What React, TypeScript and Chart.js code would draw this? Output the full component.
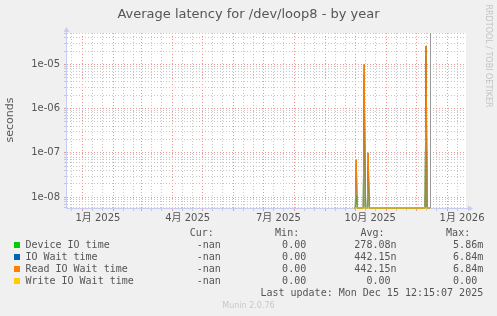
import React, { useEffect, useRef } from 'react';
import { Chart, registerables } from 'chart.js';

Chart.register(...registerables);

// ---- data ----
const xTickLabels = ['1月 2025', '4月 2025', '7月 2025', '10月 2025', '1月 2026'];
const xTickDays = [15, 105, 196, 288, 380]; // days since 2025-01-01
const monthStartDays = [-31, 0, 31, 59, 90, 120, 151, 181, 212, 243, 273, 304, 334, 365];
const xMin = -17;
const xMax = 384;
const nowDay = 348;

const yMin = 5.7e-9;
const yMax = 5.1e-5;
const yMajorValues = [1e-8, 1e-7, 1e-6, 1e-5];
const yTickLabels = ['1e-08', '1e-07', '1e-06', '1e-05'];

const sampleDays = [272, 273, 274, 275, 281, 282, 283, 285, 286, 287, 343, 344, 345, 348];
const deviceIO = [0, 0, 1.1e-8, 0, 0, 6e-6, 0, 0, 5e-8, 0, 0, 1.5e-5, 0, 0];
const ioWait = [0, 0, 7e-8, 0, 0, 1.0e-5, 0, 0, 1.0e-7, 0, 0, 2.6e-5, 0, 0];
const readIOWait = [0, 0, 7e-8, 0, 0, 1.0e-5, 0, 0, 1.0e-7, 0, 0, 2.6e-5, 0, 0];
const writeIOWait = [0, 0, 0, 0, 0, 0, 0, 0, 0, 0, 0, 0, 0, 0];

const seriesNames = ['Device IO time', 'IO Wait time', 'Read IO Wait time', 'Write IO Wait time'];
const seriesColors = ['#00cc00', '#0066b3', '#ff8000', '#ffcc00'];
const seriesValues = [deviceIO, ioWait, readIOWait, writeIOWait];
const curValues = ['-nan', '-nan', '-nan', '-nan'];
const minValues = ['0.00', '0.00', '0.00', '0.00'];
const avgValues = ['278.08n', '442.15n', '442.15n', '0.00 '];
const maxValues = ['5.86m', '6.84m', '6.84m', '0.00 '];

const titleText = 'Average latency for /dev/loop8 - by year';
const yAxisTitle = 'seconds';
const lastUpdate = 'Last update: Mon Dec 15 12:15:07 2025';
const footer = 'Munin 2.0.76';
const watermark = 'RRDTOOL / TOBI OETIKER';

// ---- styles ----
const sans = "'DejaVu Sans', 'Noto Sans CJK JP', sans-serif";
const mono = "'DejaVu Sans Mono', monospace";
const textColor = '#555555';
const majorGrid = 'rgb(240,150,150)';
const minorGrid = 'rgb(200,200,200)';
const axisColor = '#c6ccf4';

const floorZero = (v: number) => (v > 0 ? v : yMin);

function buildYTicks() {
  const ticks: { value: number; major: boolean }[] = [];
  for (let e = -9; e <= -5; e++) {
    for (let m = 1; m <= 9; m++) {
      const v = m * Math.pow(10, e);
      if (v >= yMin && v <= yMax) ticks.push({ value: v, major: m === 1 });
    }
  }
  return ticks;
}

function buildXGridTicks() {
  const ticks: { value: number; major: boolean }[] = [];
  monthStartDays.forEach((d) => {
    [d, d + 10, d + 20].forEach((v, k) => {
      if (v >= xMin && v <= xMax) ticks.push({ value: v, major: k === 0 });
    });
  });
  return ticks.sort((a, b) => a.value - b.value);
}

const bgPlugin = {
  id: 'plotBg',
  beforeDraw(chart: any) {
    const { ctx, chartArea } = chart;
    ctx.save();
    ctx.fillStyle = '#ffffff';
    ctx.fillRect(chartArea.left, chartArea.top, chartArea.right - chartArea.left, chartArea.bottom - chartArea.top);
    ctx.restore();
  },
};

const nowPlugin = {
  id: 'nowLine',
  afterDatasetsDraw(chart: any) {
    const { ctx, chartArea } = chart;
    const x = Math.round(chart.scales.x.getPixelForValue(nowDay)) + 0.5;
    ctx.save();
    ctx.strokeStyle = '#9a9a9a';
    ctx.lineWidth = 1;
    ctx.beginPath();
    ctx.moveTo(x, chartArea.top);
    ctx.lineTo(x, chartArea.bottom);
    ctx.stroke();
    ctx.restore();
  },
};

const arrowPlugin = {
  id: 'arrows',
  afterDraw(chart: any) {
    const { ctx, chartArea } = chart;
    const l = chartArea.left + 0.5;
    const b = chartArea.bottom + 0.5;
    ctx.save();
    ctx.strokeStyle = axisColor;
    ctx.fillStyle = axisColor;
    ctx.lineWidth = 1;
    ctx.beginPath();
    ctx.moveTo(l, chartArea.top);
    ctx.lineTo(l, chartArea.top - 2);
    ctx.moveTo(chartArea.right, b);
    ctx.lineTo(chartArea.right + 2, b);
    ctx.stroke();
    ctx.beginPath();
    ctx.moveTo(l - 3, chartArea.top - 1);
    ctx.lineTo(l + 3, chartArea.top - 1);
    ctx.lineTo(l, chartArea.top - 6);
    ctx.closePath();
    ctx.fill();
    ctx.beginPath();
    ctx.moveTo(chartArea.right + 2, b - 3);
    ctx.lineTo(chartArea.right + 2, b + 3);
    ctx.lineTo(chartArea.right + 7, b);
    ctx.closePath();
    ctx.fill();
    ctx.restore();
  },
};

export default function App() {
  const canvasRef = useRef<HTMLCanvasElement>(null);

  useEffect(() => {
    document.body.style.margin = '0';
    document.body.style.background = '#f0f0f0';
    const canvas = canvasRef.current;
    if (!canvas) return;
    const order = [3, 2, 1, 0];
    const chart = new Chart(canvas, {
      type: 'line',
      data: {
        datasets: seriesNames.map((name, i) => ({
          label: name,
          data: sampleDays.map((d, j) => ({ x: d, y: floorZero(seriesValues[i][j]) })),
          borderColor: seriesColors[i],
          backgroundColor: seriesColors[i],
          borderWidth: 1,
          pointRadius: 0,
          fill: false,
          tension: 0,
          order: order[i],
          clip: { left: 0, top: 0, right: 0, bottom: 1 },
        })),
      },
      options: {
        responsive: false,
        animation: false,
        devicePixelRatio: 1,
        events: [],
        layout: { padding: { left: 26, right: 31, top: 33, bottom: 90 } },
        plugins: {
          legend: { display: false },
          tooltip: { enabled: false },
          title: { display: false },
        },
        scales: {
          xg: {
            type: 'linear',
            position: 'bottom',
            weight: 0,
            min: xMin,
            max: xMax,
            bounds: 'data',
            afterBuildTicks: (s: any) => {
              s.ticks = buildXGridTicks();
            },
            afterFit: (s: any) => {
              s.height = 3;
            },
            ticks: { display: false, autoSkip: false },
            grid: {
              display: true,
              drawOnChartArea: true,
              drawTicks: true,
              tickLength: 3,
              lineWidth: 1,
              color: (c: any) => (c.tick && c.tick.major ? majorGrid : minorGrid),
              tickColor: (c: any) => (c.tick && c.tick.major ? majorGrid : minorGrid),
            },
            border: { display: true, color: axisColor, width: 1, dash: [1, 2] },
          },
          x: {
            type: 'linear',
            position: 'bottom',
            weight: 1,
            min: xMin,
            max: xMax,
            bounds: 'data',
            afterBuildTicks: (s: any) => {
              s.ticks = xTickDays.map((v) => ({ value: v }));
            },
            afterFit: (s: any) => {
              s.height = 15;
            },
            ticks: {
              autoSkip: false,
              maxRotation: 0,
              minRotation: 0,
              padding: 1,
              color: textColor,
              font: { family: sans, size: 10 },
              callback: (_v: any, i: number) => xTickLabels[i],
            },
            grid: { display: false, drawTicks: false },
            border: { display: false },
          },
          y: {
            type: 'logarithmic',
            position: 'left',
            min: yMin,
            max: yMax,
            bounds: 'data',
            afterBuildTicks: (s: any) => {
              s.ticks = buildYTicks();
            },
            afterFit: (s: any) => {
              s.width = 40;
            },
            ticks: {
              autoSkip: false,
              padding: 4,
              color: textColor,
              font: { family: sans, size: 10 },
              callback: (v: any) => {
                const idx = yMajorValues.findIndex((m) => Math.abs(m - v) / m < 1e-6);
                return idx >= 0 ? yTickLabels[idx] : '';
              },
            },
            grid: {
              display: true,
              drawTicks: true,
              tickLength: 2,
              lineWidth: 1,
              color: (c: any) => (c.tick && c.tick.major ? majorGrid : minorGrid),
              tickColor: (c: any) => (c.tick && c.tick.major ? majorGrid : minorGrid),
            },
            border: { display: true, color: axisColor, width: 1, dash: [1, 2] },
          },
        },
      } as any,
      plugins: [bgPlugin, nowPlugin, arrowPlugin],
    });
    return () => chart.destroy();
  }, []);

  const rowTop = (k: number) => 226.7 + 12 * k;
  const monoStyle: React.CSSProperties = {
    position: 'absolute',
    fontFamily: mono,
    fontSize: 10,
    lineHeight: '12px',
    height: 12,
    color: textColor,
    whiteSpace: 'pre',
  };
  const right = (edge: number, top: number, text: string, key: string) => (
    <div key={key} style={{ ...monoStyle, top, right: 497 - edge, textAlign: 'right' }}>
      {text}
    </div>
  );
  const left = (x: number, top: number, text: string, key: string) => (
    <div key={key} style={{ ...monoStyle, top, left: x }}>
      {text}
    </div>
  );

  return (
    <div
      style={{
        position: 'relative',
        width: 497,
        height: 316,
        background: '#f0f0f0',
        overflow: 'hidden',
        fontFamily: sans,
      }}
    >
      <canvas
        ref={canvasRef}
        width={497}
        height={316}
        style={{ position: 'absolute', left: 0, top: 0, width: 497, height: 316 }}
      />
      <div
        style={{
          position: 'absolute',
          left: 0,
          top: 6,
          width: 497,
          textAlign: 'center',
          fontFamily: sans,
          fontSize: 13,
          lineHeight: '16px',
          color: textColor,
          whiteSpace: 'pre',
        }}
      >
        {titleText}
      </div>
      <div
        style={{
          position: 'absolute',
          left: 10.1 - 40,
          top: 120 - 7,
          width: 80,
          height: 14,
          lineHeight: '14px',
          textAlign: 'center',
          fontFamily: sans,
          fontSize: 11,
          color: textColor,
          transform: 'rotate(-90deg)',
          whiteSpace: 'pre',
        }}
      >
        {yAxisTitle}
      </div>
      <div
        style={{
          position: 'absolute',
          left: 488 - 60,
          top: 56 - 5,
          width: 120,
          height: 10,
          lineHeight: '10px',
          textAlign: 'center',
          fontFamily: sans,
          fontSize: 8,
          color: '#c4c4c4',
          transform: 'rotate(90deg)',
          whiteSpace: 'pre',
        }}
      >
        {watermark}
      </div>
      {left(189.7, rowTop(0), 'Cur:', 'hc')}
      {left(275.1, rowTop(0), 'Min:', 'hm')}
      {left(360.4, rowTop(0), 'Avg:', 'ha')}
      {left(446.1, rowTop(0), 'Max:', 'hx')}
      {seriesNames.map((name, i) => (
        <React.Fragment key={name}>
          <div
            style={{
              position: 'absolute',
              left: 14,
              top: rowTop(i + 1) + 3.3,
              width: 6,
              height: 6,
              background: seriesColors[i],
            }}
          />
          {left(25.4, rowTop(i + 1), name, 'n' + i)}
          {right(220.8, rowTop(i + 1), curValues[i], 'c' + i)}
          {right(306.2, rowTop(i + 1), minValues[i], 'm' + i)}
          {right(396.5, rowTop(i + 1), avgValues[i], 'a' + i)}
          {right(483.2, rowTop(i + 1), maxValues[i], 'x' + i)}
        </React.Fragment>
      ))}
      {right(483.2, rowTop(5), lastUpdate, 'lu')}
      <div
        style={{
          position: 'absolute',
          left: 0,
          top: 300.5,
          width: 497,
          textAlign: 'center',
          fontFamily: sans,
          fontSize: 8,
          lineHeight: '10px',
          color: '#c8c8c8',
          whiteSpace: 'pre',
        }}
      >
        {footer}
      </div>
    </div>
  );
}
